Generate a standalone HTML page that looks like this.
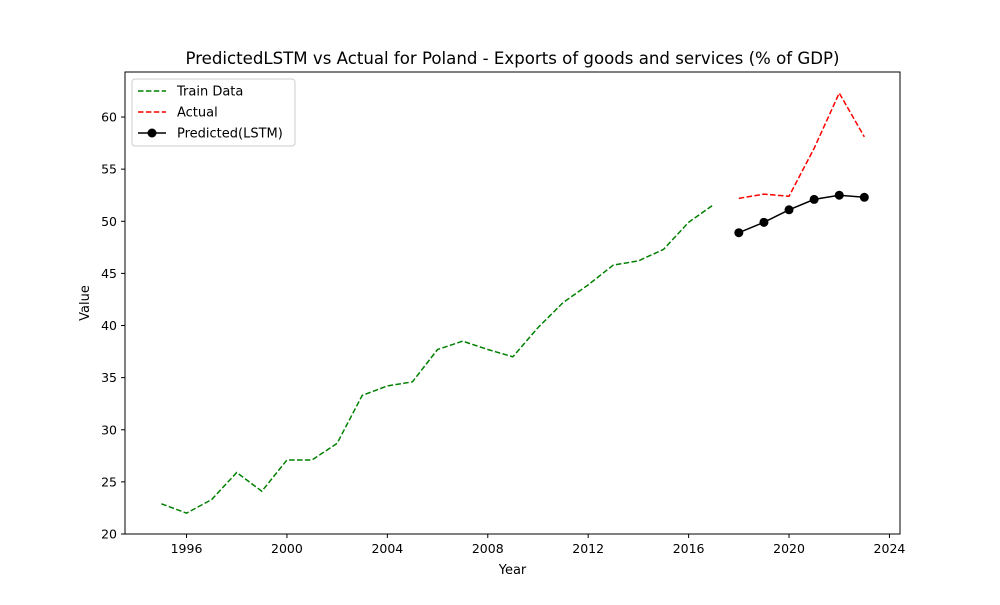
<!DOCTYPE html>
<html><head><meta charset="utf-8"><style>
body{margin:0;background:#fff;font-family:"Liberation Sans","DejaVu Sans",sans-serif;}
svg text{font-family:"DejaVu Sans","Liberation Sans",sans-serif;}
</style></head><body>
<svg id="chart" width="1000" height="600" xmlns="http://www.w3.org/2000/svg">
<rect width="1000" height="600" fill="#fff"/>
<g id="plot"></g>
</svg>
<script>
const trainYears=[1995,1996,1997,1998,1999,2000,2001,2002,2003,2004,2005,2006,2007,2008,2009,2010,2011,2012,2013,2014,2015,2016,2017];
const trainValues=[22.9,22.0,23.3,25.9,24.1,27.1,27.1,28.7,33.3,34.2,34.6,37.7,38.5,37.7,37.0,39.8,42.2,43.9,45.8,46.2,47.3,49.9,51.6];
const testYears=[2018,2019,2020,2021,2022,2023];
const actualValues=[52.2,52.6,52.4,57.0,62.3,58.1];
const predictedValues=[48.9,49.9,51.1,52.1,52.5,52.3];
const xTicks=[1996,2000,2004,2008,2012,2016,2020,2024];
const yTicks=[20,25,30,35,40,45,50,55,60];

const L=125,R=900,T=72,B=534;
const xMin=1993.55,xMax=2024.42,yMin=20,yMax=64.32;
const sx=v=>L+(v-xMin)/(xMax-xMin)*(R-L);
const sy=v=>B-(v-yMin)/(yMax-yMin)*(B-T);
const NS="http://www.w3.org/2000/svg";
const g=document.getElementById('plot');
function mk(tag,attrs,parent){const e=document.createElementNS(NS,tag);for(const k in attrs)e.setAttribute(k,attrs[k]);(parent||g).appendChild(e);return e;}
function txt(s,attrs){const e=mk('text',attrs);e.textContent=s;return e;}

xTicks.forEach(t=>{const x=sx(t);
 const l=mk('line',{x1:x,x2:x,y1:B,y2:B+4,stroke:'#000'});
 
 
 const s=txt(t,{x:x,y:B+19,'font-size':12.5,'text-anchor':'middle'});
 
 
});
yTicks.forEach(t=>{const y=sy(t);
 const l=mk('line',{x1:L-4,x2:L,y1:y,y2:y,stroke:'#000'});
 
 
 const s=txt(t,{x:L-8,y:y+4.5,'font-size':12.5,'text-anchor':'end'});
 
 
});
function path(xs,ys){return xs.map((x,i)=>(i?'L':'M')+sx(x)+' '+sy(ys[i])).join(' ');}
const p1=mk('path',{d:path(trainYears,trainValues),fill:'none',stroke:'green','stroke-width':1.5,'stroke-dasharray':'5.5,2.4'});


const p2=mk('path',{d:path(testYears,actualValues),fill:'none',stroke:'red','stroke-width':1.5,'stroke-dasharray':'5.5,2.4'});


const p3=mk('path',{d:path(testYears,predictedValues),fill:'none',stroke:'#000','stroke-width':1.5});


testYears.forEach((y,i)=>{const c=mk('circle',{cx:sx(y),cy:sy(predictedValues[i]),r:4.5,fill:'#000'});
 
 });

const fr=mk('rect',{x:L,y:T,width:R-L,height:B-T,fill:'none',stroke:'#000','stroke-width':1});


const tt=txt('PredictedLSTM vs Actual for Poland - Exports of goods and services (% of GDP)',{x:(L+R)/2,y:64,'font-size':16.6,'text-anchor':'middle'});


const xt=txt('Year',{x:(L+R)/2,y:574,'font-size':13,'text-anchor':'middle'});


const yt=txt('Value',{x:0,y:0,'font-size':13,'text-anchor':'middle',transform:'translate(89,303) rotate(-90)'});



const lg=mk('g',{});


mk('rect',{x:132,y:79,width:163,height:67,rx:3,fill:'#fff',stroke:'#ccc'},lg);
const items=[['Train Data','green','5.5,2.4',false],['Actual','red','5.5,2.4',false],['Predicted(LSTM)','#000','',true]];
items.forEach((it,i)=>{const y=91+i*21;
 const a={x1:138,x2:166,y1:y,y2:y,stroke:it[1],'stroke-width':1.5};if(it[2])a['stroke-dasharray']=it[2];
 mk('line',a,lg);
 if(it[3])mk('circle',{cx:152,cy:y,r:4.5,fill:'#000'},lg);
 const t=mk('text',{x:177,y:y+4.5,'font-size':13},lg);t.textContent=it[0];
});
</script>
</body></html>
